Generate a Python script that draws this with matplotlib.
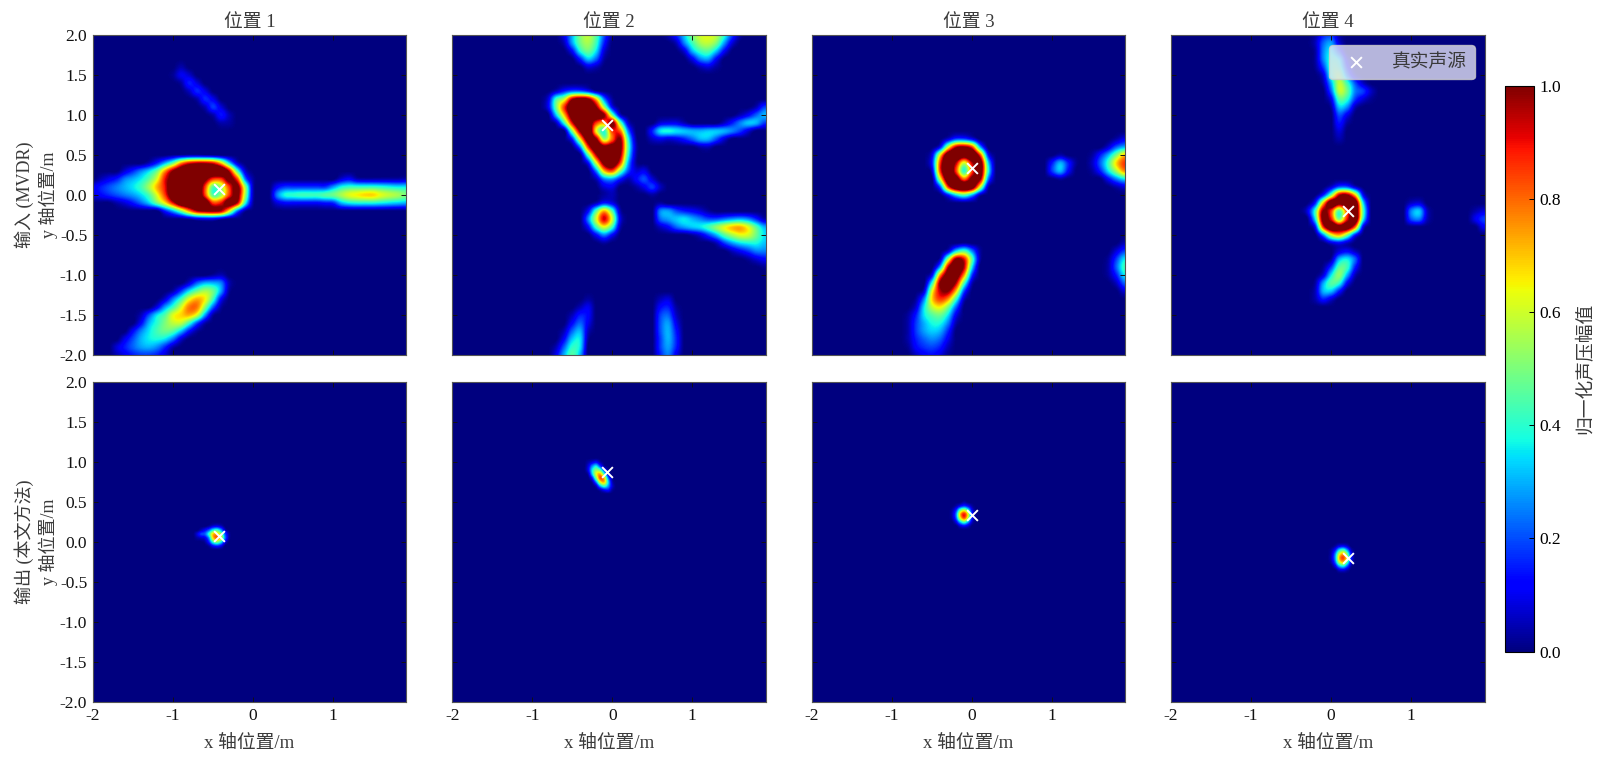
import numpy as np
import matplotlib
matplotlib.use("Agg")
import matplotlib.pyplot as plt

plt.rcParams['font.family'] = ['Liberation Serif', 'Noto Sans CJK SC']
plt.rcParams['axes.unicode_minus'] = False

W, H = 1599, 761
TXT = '#3a3a3a'

titles = ['位置 1', '位置 2', '位置 3', '位置 4']
row_labels = ['输入 (MVDR)\ny 轴位置/m', '输出 (本文方法)\ny 轴位置/m']
xlabel = 'x 轴位置/m'
cbar_label = '归一化声压幅值'
legend_label = '真实声源'
x_ticks = [-2, -1, 0, 1]
y_ticks = [-2.0, -1.5, -1.0, -0.5, 0.0, 0.5, 1.0, 1.5, 2.0]
cbar_ticks = [0.0, 0.2, 0.4, 0.6, 0.8, 1.0]
source_x = [-0.42, -0.07, 0.00, 0.21]
source_y = [0.07, 0.87, 0.34, -0.20]

# amplitude samples, percent; each row is (y, first x, values along x)
input_1 = [
    (1.6, -0.9, [4]), (1.5, -1.0, [2, 10, 7]), (1.4, -0.9, [3, 15, 8]), (1.3, -0.8, [6, 16, 9]),
    (1.2, -0.7, [4, 16, 10]), (1.1, -0.6, [5, 18, 8]), (1.0, -0.5, [4, 14, 5]), (0.9, -0.4, [4, 3]),
    (0.5, -1.0, [2, 3, 4, 4, 3, 2]),
    (0.4, -1.3, [5, 15, 30, 48, 75, 90, 95, 95, 90, 70, 35, 8]),
    (0.3, -1.6, [8, 16, 25, 34, 48, 75, 100, 115, 120, 120, 120, 120, 120, 95, 45, 8]),
    (0.2, -1.9, [5, 10, 15, 25, 30, 36, 46, 62, 90, 110, 120, 120, 120, 105, 85, 85, 105, 85, 25, 3]),
    (0.1, -2.0, [10, 15, 20, 25, 30, 35, 42, 55, 72, 90, 120, 120, 120, 120, 85, 45, 55, 85, 105, 55, 5]),
    (0.0, -2.0, [8, 12, 16, 20, 24, 28, 34, 44, 62, 85, 115, 120, 120, 120, 85, 45, 55, 85, 105, 55, 5]),
    (-0.1, -1.7, [4, 8, 14, 22, 32, 48, 65, 90, 115, 120, 120, 115, 85, 90, 110, 95, 40, 3]),
    (-0.2, -1.1, [15, 30, 50, 75, 95, 100, 100, 95, 65, 25, 3]),
    (-0.3, -0.8, [3, 8, 10, 10, 5]),
    (0.2, 1.1, [8, 12, 5, 4, 4, 4, 4, 4, 5]),
    (0.1, 0.3, [12, 18, 18, 18, 18, 18, 18, 28, 38, 42, 42, 42, 42, 40, 38, 36, 36]),
    (0.0, 0.3, [25, 38, 40, 42, 42, 42, 45, 48, 55, 62, 65, 68, 68, 62, 58, 55, 50]),
    (-0.1, 0.3, [8, 12, 12, 12, 12, 12, 14, 16, 30, 36, 38, 38, 38, 36, 34, 32, 30]),
    (-1.0, -0.5, [3, 5]),
    (-1.1, -0.8, [8, 22, 30, 30, 25, 5]),
    (-1.2, -1.0, [4, 18, 35, 48, 55, 48, 28, 3]),
    (-1.3, -1.1, [8, 25, 42, 62, 72, 65, 42, 12]),
    (-1.4, -1.2, [10, 28, 42, 60, 78, 78, 52, 22, 3]),
    (-1.5, -1.4, [5, 20, 35, 45, 62, 68, 72, 60, 28, 3]),
    (-1.6, -1.4, [12, 30, 40, 50, 58, 58, 42, 20, 4]),
    (-1.7, -1.5, [12, 25, 35, 43, 48, 45, 32, 14, 3]),
    (-1.8, -1.6, [10, 20, 30, 36, 38, 35, 24, 8]),
    (-1.9, -1.7, [8, 15, 22, 28, 30, 26, 16, 4]),
    (-2.0, -1.7, [5, 10, 15, 18, 18, 15, 8]),
]

input_2 = [
    (2.0, -0.6, [10, 30, 50, 58, 45, 20, 3]), (1.9, -0.6, [5, 28, 48, 55, 42, 15]),
    (1.8, -0.5, [12, 38, 48, 35, 8]), (1.7, -0.4, [15, 32, 22, 3]), (1.6, -0.3, [8, 5]),
    (2.0, 0.7, [4, 15, 32, 50, 60, 62, 58, 40, 18, 3]), (1.9, 0.8, [5, 25, 42, 55, 58, 50, 28, 8]),
    (1.8, 0.9, [8, 30, 42, 45, 32, 12]), (1.7, 1.0, [10, 25, 28, 12]), (1.6, 1.1, [5, 8, 3]),
    (1.3, -0.7, [6, 15, 22, 22, 15, 3]),
    (1.2, -0.8, [8, 42, 58, 95, 105, 100, 70, 25, 3]),
    (1.1, -0.8, [10, 48, 85, 115, 120, 115, 100, 55, 12]),
    (1.0, -0.7, [32, 70, 110, 120, 120, 115, 100, 50, 8]),
    (0.9, -0.7, [5, 40, 90, 120, 115, 85, 75, 105, 50, 8]),
    (0.8, -0.5, [50, 100, 120, 65, 40, 85, 80, 25]),
    (0.7, -0.5, [15, 65, 110, 100, 55, 80, 100, 40, 3]),
    (0.6, -0.4, [25, 85, 115, 105, 110, 105, 45, 5]),
    (0.5, -0.3, [45, 95, 120, 120, 100, 40, 4]),
    (0.4, -0.3, [12, 60, 105, 115, 85, 30, 3]),
    (0.3, -0.2, [25, 70, 82, 50, 20, 8, 10]),
    (0.2, -0.2, [5, 25, 28, 15, 5, 12, 20, 8]),
    (0.1, -0.1, [8, 10]), (0.1, 0.3, [3, 10, 18, 6]), (0.0, -0.1, [3, 5]), (0.0, 0.5, [3]),
    (-0.1, -0.2, [5, 15, 10]),
    (-0.2, -0.3, [12, 45, 72, 45, 5]),
    (-0.3, -0.3, [25, 60, 92, 60, 10]),
    (-0.4, -0.3, [12, 42, 62, 42, 5]),
    (-0.5, -0.2, [12, 25, 12]), (-0.6, -0.1, [3]),
    (1.1, 1.8, [5, 18]), (1.0, 1.6, [5, 12, 22, 30]),
    (0.9, 0.6, [8, 10, 10, 5]), (0.9, 1.4, [6, 15, 25, 32, 30, 18]),
    (0.8, 0.5, [15, 35, 38, 35, 32, 30, 30, 32, 32, 30, 25, 18, 8]),
    (0.7, 0.5, [6, 10, 8, 10, 15, 22, 30, 30, 20, 8]), (0.6, 1.1, [4, 5]),
    (-0.1, 0.6, [3]),
    (-0.2, 0.6, [25, 28, 20, 15, 12, 8, 3]),
    (-0.3, 0.6, [22, 28, 32, 35, 30, 25, 20, 20, 24, 28, 30, 26, 16, 5]),
    (-0.4, 0.6, [6, 12, 22, 28, 32, 35, 42, 52, 62, 70, 72, 62, 45, 30]),
    (-0.5, 1.0, [3, 8, 18, 30, 45, 55, 62, 60, 48, 35]),
    (-0.6, 1.3, [5, 18, 28, 35, 38, 38, 32]),
    (-0.7, 1.5, [6, 12, 18, 25, 25]), (-0.8, 1.7, [3, 8, 12]), (-0.9, 1.9, [2]),
    (-1.3, -0.3, [3]), (-1.4, -0.4, [5, 10]), (-1.5, -0.5, [5, 15, 12]), (-1.6, -0.5, [12, 22, 10]),
    (-1.7, -0.6, [5, 22, 30, 6]), (-1.8, -0.6, [12, 32, 35, 3]), (-1.9, -0.7, [5, 22, 40, 35]),
    (-2.0, -0.7, [10, 30, 45, 30]),
    (-1.3, 0.6, [5, 8]), (-1.4, 0.6, [12, 15, 3]), (-1.5, 0.6, [18, 22, 6]), (-1.6, 0.6, [20, 28, 10]),
    (-1.7, 0.6, [20, 30, 14]), (-1.8, 0.6, [18, 30, 16]), (-1.9, 0.6, [18, 28, 15]), (-2.0, 0.6, [15, 25, 10]),
]

input_3 = [
    (0.7, -0.3, [8, 20, 20, 12]),
    (0.6, -0.4, [12, 60, 95, 100, 85, 30]),
    (0.5, -0.5, [10, 65, 115, 120, 110, 120, 85, 15]),
    (0.4, -0.5, [15, 85, 120, 95, 60, 95, 110, 35]),
    (0.3, -0.5, [8, 85, 120, 85, 40, 85, 110, 40]),
    (0.2, -0.4, [60, 115, 110, 80, 105, 100, 25]),
    (0.1, -0.4, [20, 85, 115, 120, 110, 60, 5]),
    (0.0, -0.3, [15, 35, 45, 30, 5]),
    (0.5, 1.1, [4]), (0.4, 1.0, [15, 30, 15, 2]), (0.3, 1.0, [18, 30, 12]), (0.2, 1.1, [3]),
    (0.7, 1.8, [4, 10]), (0.6, 1.7, [8, 22, 30]), (0.5, 1.5, [3, 15, 30, 50, 70]),
    (0.4, 1.5, [6, 22, 42, 68, 85]), (0.3, 1.5, [3, 15, 35, 55, 75]), (0.2, 1.7, [12, 25, 35]),
    (0.1, 1.8, [4, 8]),
    (-0.6, -0.1, [2]),
    (-0.7, -0.3, [8, 35, 45, 25, 3]),
    (-0.8, -0.4, [5, 55, 100, 90, 45, 4]),
    (-0.9, -0.4, [30, 95, 115, 95, 35]),
    (-1.0, -0.5, [12, 75, 110, 110, 75, 18]),
    (-1.1, -0.5, [40, 100, 115, 95, 45, 5]),
    (-1.2, -0.6, [8, 62, 95, 100, 70, 20]),
    (-1.3, -0.7, [3, 25, 68, 85, 75, 42, 6]),
    (-1.4, -0.7, [8, 35, 58, 65, 50, 22]),
    (-1.5, -0.8, [3, 15, 35, 45, 48, 35, 10]),
    (-1.6, -0.8, [4, 18, 30, 38, 38, 25, 4]),
    (-1.7, -0.8, [4, 18, 28, 33, 30, 16]),
    (-1.8, -0.8, [4, 15, 22, 26, 22, 10]),
    (-1.9, -0.8, [2, 12, 17, 19, 15, 5]),
    (-2.0, -0.7, [6, 11, 13, 9, 2]),
    (-0.6, 1.9, [5]), (-0.7, 1.8, [8, 18]), (-0.8, 1.7, [3, 18, 35]), (-0.9, 1.7, [4, 22, 42]),
    (-1.0, 1.7, [3, 15, 35]), (-1.1, 1.8, [6, 22]), (-1.2, 1.9, [8]),
]

input_4 = [
    (2.0, -0.2, [3, 15, 18, 4]), (1.9, -0.2, [5, 22, 28, 8]), (1.8, -0.2, [3, 25, 35, 18]),
    (1.7, -0.2, [3, 25, 40, 35, 8]), (1.6, -0.2, [2, 18, 42, 42, 15]), (1.5, -0.1, [8, 40, 52, 25, 5]),
    (1.4, -0.1, [4, 30, 58, 42, 20, 6]), (1.3, 0.0, [22, 58, 48, 25, 18, 6]),
    (1.2, 0.0, [10, 45, 40, 18, 8, 2]), (1.1, 0.0, [3, 32, 26, 5]), (1.0, 0.1, [20, 10]),
    (0.9, 0.1, [14, 3]), (0.8, 0.1, [8]), (0.7, 0.1, [4]),
    (0.1, 0.0, [8, 22, 22, 8]),
    (0.0, -0.1, [15, 50, 95, 100, 70, 12]),
    (-0.1, -0.2, [15, 70, 115, 105, 115, 115, 35]),
    (-0.2, -0.3, [8, 42, 100, 85, 45, 85, 115, 45]),
    (-0.3, -0.2, [35, 105, 90, 50, 90, 115, 38]),
    (-0.4, -0.2, [12, 85, 115, 105, 110, 80, 10]),
    (-0.5, -0.1, [25, 60, 72, 50, 15]),
    (-0.6, 0.0, [8, 12, 6]),
    (-0.7, 0.1, [8, 12, 5]), (-0.8, 0.0, [3, 30, 36, 22]), (-0.9, -0.1, [2, 18, 45, 42, 15]),
    (-1.0, -0.1, [8, 35, 52, 30, 5]), (-1.1, -0.2, [3, 28, 45, 40, 12]),
    (-1.2, -0.2, [5, 30, 32, 15]), (-1.3, -0.2, [4, 15, 8]),
    (-0.1, 1.0, [6, 8]), (-0.2, 1.0, [25, 32, 6]), (-0.3, 1.0, [20, 24, 5]),
    (-0.2, 1.8, [4, 8]), (-0.3, 1.8, [10, 18]), (-0.4, 1.9, [10]),
]

output_1 = [
    (0.20, -0.55, [3, 8, 10, 6]),
    (0.15, -0.65, [5, 12, 22, 38, 42, 28, 6]),
    (0.10, -0.70, [8, 18, 22, 42, 70, 72, 52, 20, 3]),
    (0.05, -0.70, [3, 6, 10, 28, 68, 80, 62, 24, 3]),
    (0.00, -0.60, [3, 16, 42, 50, 36, 10]),
    (-0.05, -0.55, [3, 12, 16, 10]),
]
output_2 = [
    (1.00, -0.30, [3, 8, 12, 4]),
    (0.95, -0.30, [8, 25, 35, 18, 3]),
    (0.90, -0.30, [10, 35, 52, 45, 18, 3]),
    (0.85, -0.30, [4, 32, 62, 72, 42, 10]),
    (0.80, -0.25, [15, 50, 82, 70, 25, 3]),
    (0.75, -0.25, [3, 26, 62, 70, 35, 6]),
    (0.70, -0.20, [6, 30, 42, 28, 8]),
    (0.65, -0.15, [5, 12, 14, 3]),
]
output_3 = [
    (0.50, -0.10, [3]),
    (0.45, -0.20, [4, 12, 18, 12, 3]),
    (0.40, -0.25, [3, 16, 45, 58, 38, 10]),
    (0.35, -0.25, [5, 25, 70, 88, 62, 15]),
    (0.30, -0.25, [4, 22, 62, 82, 56, 13]),
    (0.25, -0.20, [10, 32, 45, 28, 6]),
    (0.20, -0.15, [8, 12, 7]),
]
output_4 = [
    (-0.05, 0.05, [3, 10, 12, 7]),
    (-0.10, 0.00, [3, 14, 36, 45, 28, 6]),
    (-0.15, 0.00, [5, 25, 60, 72, 50, 13]),
    (-0.20, 0.00, [6, 28, 70, 84, 60, 16]),
    (-0.25, 0.00, [4, 22, 58, 70, 45, 10]),
    (-0.30, 0.05, [10, 30, 38, 22, 3]),
    (-0.35, 0.10, [8, 10, 5]),
]

input_rows = [input_1, input_2, input_3, input_4]
output_rows = [output_1, output_2, output_3, output_4]


def grid(rows, step):
    nx = int(round(3.9 / step)) + 1
    ny = int(round(4.0 / step)) + 1
    z = np.zeros((ny, nx))
    for y, x0, vals in rows:
        r = int(round((y + 2) / step))
        c = int(round((x0 + 2) / step))
        for k, v in enumerate(vals):
            z[r, c + k] = max(z[r, c + k], v / 100)
    return z, (-2 - step / 2, 1.9 + step / 2, -2 - step / 2, 2 + step / 2)


def axpx(x0, y0, x1, y1):
    return [x0 / W, 1 - y1 / H, (x1 - x0) / W, (y1 - y0) / H]


fig = plt.figure(figsize=(W / 100, H / 100), dpi=100)
lefts = [92.7, 452.3, 811.7, 1171.0]
rows_px = [(35, 355), (382, 702)]
AW = 313.6
im = None
for r, (top, bot) in enumerate(rows_px):
    data = input_rows if r == 0 else output_rows
    step = 0.1 if r == 0 else 0.05
    for c, left in enumerate(lefts):
        ax = fig.add_axes(axpx(left, top, left + AW, bot))
        z, ext = grid(data[c], step)
        im = ax.imshow(z, origin='lower', extent=ext, cmap='jet', vmin=0, vmax=1,
                       interpolation='catrom', aspect='auto')
        ax.set_xlim(-2, 1.92)
        ax.set_ylim(-2, 2)
        ax.set_xticks(x_ticks)
        ax.set_yticks(y_ticks)
        ax.tick_params(direction='in', top=True, right=True, length=3.5, width=0.7,
                       labelsize=12.5, pad=4, colors='#111111')
        ax.tick_params(labelbottom=(r == 1), labelleft=(c == 0))
        for s in ax.spines.values():
            s.set_linewidth(0.8)
            s.set_color('#555555')
        ax.scatter([source_x[c]], [source_y[c]], marker='x', c='white', s=60,
                   linewidths=1.4, label=legend_label, zorder=5)
        if r == 0:
            ax.set_title(titles[c], fontsize=13.5, color=TXT, pad=6)
        else:
            ax.set_xlabel(xlabel, fontsize=13.5, color=TXT, labelpad=8)
        if c == 0:
            ax.set_ylabel(row_labels[r], fontsize=13, color=TXT, labelpad=1.5, linespacing=1.3)
        if r == 0 and c == 3:
            lg = ax.legend(loc='upper right', fontsize=13.5, framealpha=0.8, borderpad=0.45,
                           handletextpad=0.9, handlelength=2.0, edgecolor='#cccccc',
                           bbox_to_anchor=(0.97, 0.969), borderaxespad=0)
            for t in lg.get_texts():
                t.set_color(TXT)
            lg.get_frame().set_facecolor('#e4e4f4')

cax = fig.add_axes(axpx(1505, 85.7, 1534, 651.6))
cb = fig.colorbar(im, cax=cax)
cb.set_ticks(cbar_ticks)
cb.ax.tick_params(direction='in', length=3.5, width=0.7, labelsize=12.5, pad=4)
cb.outline.set_linewidth(0.8)
cb.set_label(cbar_label, fontsize=13.5, color=TXT, labelpad=11, rotation=90)

fig.savefig('out.png', dpi=100)
